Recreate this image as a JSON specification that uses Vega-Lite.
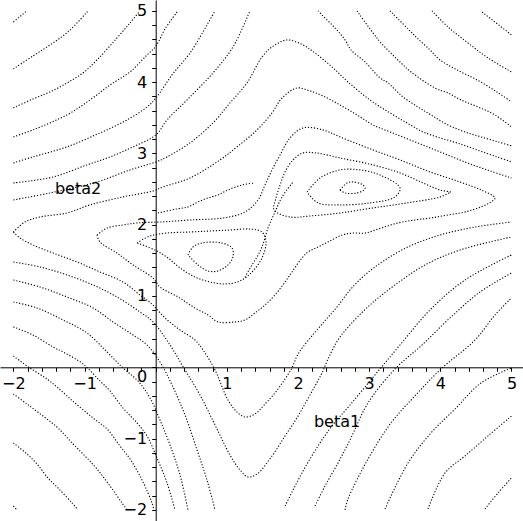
{
"$schema": "https://vega.github.io/schema/vega-lite/v6.json",
"width": 523, "height": 521, "autosize": "none", "padding": 0, "background": "white",
"config": {"view": {"stroke": null}, "axis": {"labelFont": "DejaVu Sans", "titleFont": "DejaVu Sans", "labelFontSize": 16, "titleFontSize": 16, "titleFontWeight": "normal", "labelColor": "black", "titleColor": "black", "domainColor": "black", "tickColor": "black", "grid": false, "tickSize": 4, "domainWidth": 1, "tickWidth": 1}},
"datasets": {"contours": [
{"curve":"C1","k":0,"beta1":-2.0,"beta2":4.843},{"curve":"C1","k":1,"beta1":-1.809,"beta2":5.0},
{"curve":"C2","k":0,"beta1":-2.0,"beta2":4.184},{"curve":"C2","k":1,"beta1":-1.725,"beta2":4.366},{"curve":"C2","k":2,"beta1":-1.486,"beta2":4.52},{"curve":"C2","k":3,"beta1":-1.233,"beta2":4.703},{"curve":"C2","k":4,"beta1":-0.951,"beta2":4.997},
{"curve":"C3","k":0,"beta1":-2.0,"beta2":3.637},{"curve":"C3","k":1,"beta1":-1.725,"beta2":3.763},{"curve":"C3","k":2,"beta1":-1.486,"beta2":3.861},{"curve":"C3","k":3,"beta1":-1.247,"beta2":3.987},{"curve":"C3","k":4,"beta1":-1.022,"beta2":4.128},{"curve":"C3","k":5,"beta1":-0.825,"beta2":4.31},{"curve":"C3","k":6,"beta1":-0.544,"beta2":4.619},{"curve":"C3","k":7,"beta1":-0.361,"beta2":4.829},{"curve":"C3","k":8,"beta1":-0.221,"beta2":5.0},
{"curve":"C4","k":0,"beta1":-2.0,"beta2":3.231},{"curve":"C4","k":1,"beta1":-1.725,"beta2":3.329},{"curve":"C4","k":2,"beta1":-1.247,"beta2":3.539},{"curve":"C4","k":3,"beta1":-0.923,"beta2":3.749},{"curve":"C4","k":4,"beta1":-0.642,"beta2":3.959},{"curve":"C4","k":5,"beta1":-0.361,"beta2":4.142},{"curve":"C4","k":6,"beta1":-0.122,"beta2":4.38},{"curve":"C4","k":7,"beta1":0.004,"beta2":4.506},{"curve":"C4","k":8,"beta1":0.131,"beta2":4.745},{"curve":"C4","k":9,"beta1":0.313,"beta2":5.0},
{"curve":"C5","k":0,"beta1":-2.0,"beta2":2.866},{"curve":"C5","k":1,"beta1":-1.725,"beta2":2.95},{"curve":"C5","k":2,"beta1":-1.247,"beta2":3.091},{"curve":"C5","k":3,"beta1":-0.783,"beta2":3.287},{"curve":"C5","k":4,"beta1":-0.403,"beta2":3.469},{"curve":"C5","k":5,"beta1":-0.122,"beta2":3.651},{"curve":"C5","k":6,"beta1":0.004,"beta2":3.777},{"curve":"C5","k":7,"beta1":0.229,"beta2":4.1},{"curve":"C5","k":8,"beta1":0.482,"beta2":4.408},{"curve":"C5","k":9,"beta1":0.721,"beta2":4.801},{"curve":"C5","k":10,"beta1":0.834,"beta2":5.0},
{"curve":"C6","k":0,"beta1":-2.0,"beta2":2.585},{"curve":"C6","k":1,"beta1":-1.443,"beta2":2.669},{"curve":"C6","k":2,"beta1":-0.966,"beta2":2.838},{"curve":"C6","k":3,"beta1":-0.642,"beta2":2.95},{"curve":"C6","k":4,"beta1":-0.319,"beta2":3.091},{"curve":"C6","k":5,"beta1":0.004,"beta2":3.259},{"curve":"C6","k":6,"beta1":0.159,"beta2":3.469},{"curve":"C6","k":7,"beta1":0.44,"beta2":3.749},{"curve":"C6","k":8,"beta1":0.805,"beta2":4.128},{"curve":"C6","k":9,"beta1":1.086,"beta2":4.492},{"curve":"C6","k":10,"beta1":1.325,"beta2":5.0},
{"curve":"C7","k":0,"beta1":-2.0,"beta2":2.347},{"curve":"C7","k":1,"beta1":-1.486,"beta2":2.445},{"curve":"C7","k":2,"beta1":-0.825,"beta2":2.599},{"curve":"C7","k":3,"beta1":-0.361,"beta2":2.768},{"curve":"C7","k":4,"beta1":0.004,"beta2":2.88},{"curve":"C7","k":5,"beta1":0.159,"beta2":2.95},{"curve":"C7","k":6,"beta1":0.482,"beta2":3.147},{"curve":"C7","k":7,"beta1":0.805,"beta2":3.427},{"curve":"C7","k":8,"beta1":1.044,"beta2":3.707},{"curve":"C7","k":9,"beta1":1.283,"beta2":3.987},{"curve":"C7","k":10,"beta1":1.494,"beta2":4.352},{"curve":"C7","k":11,"beta1":1.635,"beta2":4.492},{"curve":"C7","k":12,"beta1":1.846,"beta2":4.591},{"curve":"C7","k":13,"beta1":2.07,"beta2":4.52},{"curve":"C7","k":14,"beta1":2.239,"beta2":4.408},{"curve":"C7","k":15,"beta1":2.478,"beta2":4.212},{"curve":"C7","k":16,"beta1":2.703,"beta2":4.001},{"curve":"C7","k":17,"beta1":3.012,"beta2":3.749},{"curve":"C7","k":18,"beta1":3.293,"beta2":3.567},{"curve":"C7","k":19,"beta1":3.532,"beta2":3.427},{"curve":"C7","k":20,"beta1":3.757,"beta2":3.301},{"curve":"C7","k":21,"beta1":3.996,"beta2":3.217},{"curve":"C7","k":22,"beta1":4.235,"beta2":3.147},{"curve":"C7","k":23,"beta1":4.516,"beta2":3.048},{"curve":"C7","k":24,"beta1":4.797,"beta2":2.95},{"curve":"C7","k":25,"beta1":5.0,"beta2":2.88},
{"curve":"C8","k":0,"beta1":-2.0,"beta2":1.897},{"curve":"C8","k":1,"beta1":-1.837,"beta2":2.038},{"curve":"C8","k":2,"beta1":-1.626,"beta2":2.108},{"curve":"C8","k":3,"beta1":-1.247,"beta2":2.164},{"curve":"C8","k":4,"beta1":-0.923,"beta2":2.277},{"curve":"C8","k":5,"beta1":-0.46,"beta2":2.389},{"curve":"C8","k":6,"beta1":-0.038,"beta2":2.473},{"curve":"C8","k":7,"beta1":0.103,"beta2":2.529},{"curve":"C8","k":8,"beta1":0.482,"beta2":2.655},{"curve":"C8","k":9,"beta1":0.904,"beta2":2.908},{"curve":"C8","k":10,"beta1":1.143,"beta2":3.091},{"curve":"C8","k":11,"beta1":1.424,"beta2":3.329},{"curve":"C8","k":12,"beta1":1.635,"beta2":3.567},{"curve":"C8","k":13,"beta1":1.776,"beta2":3.777},{"curve":"C8","k":14,"beta1":1.986,"beta2":3.917},{"curve":"C8","k":15,"beta1":2.169,"beta2":3.875},{"curve":"C8","k":16,"beta1":2.351,"beta2":3.805},{"curve":"C8","k":17,"beta1":2.59,"beta2":3.679},{"curve":"C8","k":18,"beta1":2.829,"beta2":3.539},{"curve":"C8","k":19,"beta1":3.054,"beta2":3.399},{"curve":"C8","k":20,"beta1":3.293,"beta2":3.301},{"curve":"C8","k":21,"beta1":3.574,"beta2":3.189},{"curve":"C8","k":22,"beta1":3.855,"beta2":3.077},{"curve":"C8","k":23,"beta1":4.136,"beta2":2.964},{"curve":"C8","k":24,"beta1":4.417,"beta2":2.852},{"curve":"C8","k":25,"beta1":4.699,"beta2":2.754},{"curve":"C8","k":26,"beta1":5.0,"beta2":2.655},
{"curve":"T1","k":0,"beta1":2.281,"beta2":5.0},{"curve":"T1","k":1,"beta1":2.337,"beta2":4.941},{"curve":"T1","k":2,"beta1":2.52,"beta2":4.759},{"curve":"T1","k":3,"beta1":2.661,"beta2":4.591},{"curve":"T1","k":4,"beta1":2.745,"beta2":4.45},{"curve":"T1","k":5,"beta1":2.942,"beta2":4.282},{"curve":"T1","k":6,"beta1":3.153,"beta2":4.058},{"curve":"T1","k":7,"beta1":3.265,"beta2":3.987},{"curve":"T1","k":8,"beta1":3.476,"beta2":3.791},{"curve":"T1","k":9,"beta1":3.686,"beta2":3.651},{"curve":"T1","k":10,"beta1":3.869,"beta2":3.539},{"curve":"T1","k":11,"beta1":4.108,"beta2":3.399},{"curve":"T1","k":12,"beta1":4.347,"beta2":3.301},{"curve":"T1","k":13,"beta1":4.572,"beta2":3.231},{"curve":"T1","k":14,"beta1":4.811,"beta2":3.161},{"curve":"T1","k":15,"beta1":5.0,"beta2":3.105},
{"curve":"T2","k":0,"beta1":2.829,"beta2":4.997},{"curve":"T2","k":1,"beta1":3.054,"beta2":4.689},{"curve":"T2","k":2,"beta1":3.167,"beta2":4.548},{"curve":"T2","k":3,"beta1":3.448,"beta2":4.268},{"curve":"T2","k":4,"beta1":3.588,"beta2":4.142},{"curve":"T2","k":5,"beta1":3.926,"beta2":3.917},{"curve":"T2","k":6,"beta1":4.108,"beta2":3.847},{"curve":"T2","k":7,"beta1":4.291,"beta2":3.749},{"curve":"T2","k":8,"beta1":4.53,"beta2":3.651},{"curve":"T2","k":9,"beta1":4.769,"beta2":3.539},{"curve":"T2","k":10,"beta1":5.0,"beta2":3.371},
{"curve":"T3","k":0,"beta1":3.293,"beta2":5.0},{"curve":"T3","k":1,"beta1":3.546,"beta2":4.745},{"curve":"T3","k":2,"beta1":3.672,"beta2":4.619},{"curve":"T3","k":3,"beta1":3.855,"beta2":4.45},{"curve":"T3","k":4,"beta1":3.996,"beta2":4.31},{"curve":"T3","k":5,"beta1":4.235,"beta2":4.17},{"curve":"T3","k":6,"beta1":4.516,"beta2":4.03},{"curve":"T3","k":7,"beta1":4.797,"beta2":3.861},{"curve":"T3","k":8,"beta1":5.0,"beta2":3.721},
{"curve":"T4","k":0,"beta1":3.883,"beta2":5.0},{"curve":"T4","k":1,"beta1":4.108,"beta2":4.773},{"curve":"T4","k":2,"beta1":4.389,"beta2":4.548},{"curve":"T4","k":3,"beta1":4.671,"beta2":4.338},{"curve":"T4","k":4,"beta1":5.0,"beta2":4.142},
{"curve":"T5","k":0,"beta1":4.586,"beta2":4.983},{"curve":"T5","k":1,"beta1":5.0,"beta2":4.661},
{"curve":"D","k":0,"beta1":-0.825,"beta2":1.855},{"curve":"D","k":1,"beta1":-0.684,"beta2":1.953},{"curve":"D","k":2,"beta1":-0.46,"beta2":1.996},{"curve":"D","k":3,"beta1":-0.263,"beta2":2.024},{"curve":"D","k":4,"beta1":0.089,"beta2":2.038},{"curve":"D","k":5,"beta1":0.482,"beta2":2.066},{"curve":"D","k":6,"beta1":0.946,"beta2":2.094},{"curve":"D","k":7,"beta1":1.255,"beta2":2.178},{"curve":"D","k":8,"beta1":1.438,"beta2":2.347},{"curve":"D","k":9,"beta1":1.536,"beta2":2.557},{"curve":"D","k":10,"beta1":1.635,"beta2":2.768},{"curve":"D","k":11,"beta1":1.748,"beta2":2.978},{"curve":"D","k":12,"beta1":1.888,"beta2":3.217},{"curve":"D","k":13,"beta1":2.07,"beta2":3.357},{"curve":"D","k":14,"beta1":2.351,"beta2":3.329},{"curve":"D","k":15,"beta1":2.59,"beta2":3.231},{"curve":"D","k":16,"beta1":3.054,"beta2":3.048},{"curve":"D","k":17,"beta1":3.434,"beta2":2.908},{"curve":"D","k":18,"beta1":3.855,"beta2":2.74},{"curve":"D","k":19,"beta1":4.277,"beta2":2.599},{"curve":"D","k":20,"beta1":4.572,"beta2":2.487},{"curve":"D","k":21,"beta1":4.769,"beta2":2.375},{"curve":"D","k":22,"beta1":4.713,"beta2":2.319},{"curve":"D","k":23,"beta1":4.572,"beta2":2.249},{"curve":"D","k":24,"beta1":4.347,"beta2":2.178},{"curve":"D","k":25,"beta1":4.108,"beta2":2.136},{"curve":"D","k":26,"beta1":3.869,"beta2":2.094},{"curve":"D","k":27,"beta1":3.644,"beta2":2.066},{"curve":"D","k":28,"beta1":3.405,"beta2":2.024},{"curve":"D","k":29,"beta1":3.167,"beta2":1.953},{"curve":"D","k":30,"beta1":2.942,"beta2":1.883},{"curve":"D","k":31,"beta1":2.773,"beta2":1.883},{"curve":"D","k":32,"beta1":2.619,"beta2":1.855},{"curve":"D","k":33,"beta1":2.422,"beta2":1.757},{"curve":"D","k":34,"beta1":2.281,"beta2":1.687},{"curve":"D","k":35,"beta1":2.141,"beta2":1.617},{"curve":"D","k":36,"beta1":2.056,"beta2":1.533},{"curve":"D","k":37,"beta1":1.916,"beta2":1.337},{"curve":"D","k":38,"beta1":1.818,"beta2":1.196},{"curve":"D","k":39,"beta1":1.677,"beta2":1.014},{"curve":"D","k":40,"beta1":1.536,"beta2":0.874},{"curve":"D","k":41,"beta1":1.396,"beta2":0.762},{"curve":"D","k":42,"beta1":1.255,"beta2":0.664},{"curve":"D","k":43,"beta1":1.115,"beta2":0.636},{"curve":"D","k":44,"beta1":0.876,"beta2":0.636},{"curve":"D","k":45,"beta1":0.735,"beta2":0.734},{"curve":"D","k":46,"beta1":0.552,"beta2":0.832},{"curve":"D","k":47,"beta1":0.313,"beta2":0.986},{"curve":"D","k":48,"beta1":0.06,"beta2":1.126},{"curve":"D","k":49,"beta1":-0.038,"beta2":1.252},{"curve":"D","k":50,"beta1":-0.319,"beta2":1.435},{"curve":"D","k":51,"beta1":-0.544,"beta2":1.603},{"curve":"D","k":52,"beta1":-0.783,"beta2":1.757},{"curve":"D","k":53,"beta1":-0.825,"beta2":1.855},
{"curve":"RL4","k":0,"beta1":4.15,"beta2":2.459},{"curve":"RL4","k":1,"beta1":3.996,"beta2":2.487},{"curve":"RL4","k":2,"beta1":3.757,"beta2":2.585},{"curve":"RL4","k":3,"beta1":3.434,"beta2":2.726},{"curve":"RL4","k":4,"beta1":3.054,"beta2":2.838},{"curve":"RL4","k":5,"beta1":2.59,"beta2":2.936},{"curve":"RL4","k":6,"beta1":2.253,"beta2":3.006},{"curve":"RL4","k":7,"beta1":2.07,"beta2":3.006},{"curve":"RL4","k":8,"beta1":1.93,"beta2":2.908},{"curve":"RL4","k":9,"beta1":1.818,"beta2":2.74},{"curve":"RL4","k":10,"beta1":1.748,"beta2":2.557},{"curve":"RL4","k":11,"beta1":1.691,"beta2":2.375},{"curve":"RL4","k":12,"beta1":1.663,"beta2":2.206},{"curve":"RL4","k":13,"beta1":1.888,"beta2":2.108},{"curve":"RL4","k":14,"beta1":2.169,"beta2":2.122},{"curve":"RL4","k":15,"beta1":2.59,"beta2":2.164},{"curve":"RL4","k":16,"beta1":3.054,"beta2":2.235},{"curve":"RL4","k":17,"beta1":3.532,"beta2":2.305},{"curve":"RL4","k":18,"beta1":3.996,"beta2":2.389},{"curve":"RL4","k":19,"beta1":4.15,"beta2":2.459},
{"curve":"RL2","k":0,"beta1":2.127,"beta2":2.459},{"curve":"RL2","k":1,"beta1":2.309,"beta2":2.655},{"curve":"RL2","k":2,"beta1":2.59,"beta2":2.768},{"curve":"RL2","k":3,"beta1":2.871,"beta2":2.768},{"curve":"RL2","k":4,"beta1":3.153,"beta2":2.697},{"curve":"RL2","k":5,"beta1":3.434,"beta2":2.515},{"curve":"RL2","k":6,"beta1":3.363,"beta2":2.389},{"curve":"RL2","k":7,"beta1":3.012,"beta2":2.305},{"curve":"RL2","k":8,"beta1":2.59,"beta2":2.277},{"curve":"RL2","k":9,"beta1":2.281,"beta2":2.305},{"curve":"RL2","k":10,"beta1":2.127,"beta2":2.459},
{"curve":"RL1","k":0,"beta1":2.59,"beta2":2.487},{"curve":"RL1","k":1,"beta1":2.689,"beta2":2.585},{"curve":"RL1","k":2,"beta1":2.773,"beta2":2.599},{"curve":"RL1","k":3,"beta1":2.914,"beta2":2.557},{"curve":"RL1","k":4,"beta1":2.942,"beta2":2.501},{"curve":"RL1","k":5,"beta1":2.829,"beta2":2.445},{"curve":"RL1","k":6,"beta1":2.661,"beta2":2.445},{"curve":"RL1","k":7,"beta1":2.59,"beta2":2.487},
{"curve":"CL1","k":0,"beta1":0.454,"beta2":1.575},{"curve":"CL1","k":1,"beta1":0.524,"beta2":1.687},{"curve":"CL1","k":2,"beta1":0.651,"beta2":1.743},{"curve":"CL1","k":3,"beta1":0.932,"beta2":1.743},{"curve":"CL1","k":4,"beta1":1.072,"beta2":1.673},{"curve":"CL1","k":5,"beta1":1.086,"beta2":1.547},{"curve":"CL1","k":6,"beta1":1.016,"beta2":1.435},{"curve":"CL1","k":7,"beta1":0.876,"beta2":1.351},{"curve":"CL1","k":8,"beta1":0.735,"beta2":1.351},{"curve":"CL1","k":9,"beta1":0.595,"beta2":1.435},{"curve":"CL1","k":10,"beta1":0.454,"beta2":1.575},
{"curve":"CL2","k":0,"beta1":-0.263,"beta2":1.743},{"curve":"CL2","k":1,"beta1":-0.08,"beta2":1.841},{"curve":"CL2","k":2,"beta1":0.159,"beta2":1.883},{"curve":"CL2","k":3,"beta1":0.482,"beta2":1.897},{"curve":"CL2","k":4,"beta1":0.763,"beta2":1.911},{"curve":"CL2","k":5,"beta1":1.044,"beta2":1.925},{"curve":"CL2","k":6,"beta1":1.325,"beta2":1.939},{"curve":"CL2","k":7,"beta1":1.494,"beta2":1.897},{"curve":"CL2","k":8,"beta1":1.55,"beta2":1.757},{"curve":"CL2","k":9,"beta1":1.494,"beta2":1.533},{"curve":"CL2","k":10,"beta1":1.353,"beta2":1.337},{"curve":"CL2","k":11,"beta1":1.185,"beta2":1.21},{"curve":"CL2","k":12,"beta1":0.974,"beta2":1.168},{"curve":"CL2","k":13,"beta1":0.763,"beta2":1.196},{"curve":"CL2","k":14,"beta1":0.552,"beta2":1.266},{"curve":"CL2","k":15,"beta1":0.342,"beta2":1.393},{"curve":"CL2","k":16,"beta1":0.173,"beta2":1.533},{"curve":"CL2","k":17,"beta1":-0.01,"beta2":1.645},{"curve":"CL2","k":18,"beta1":-0.263,"beta2":1.743},
{"curve":"H0","k":0,"beta1":0.032,"beta2":2.164},{"curve":"H0","k":1,"beta1":0.299,"beta2":2.221},{"curve":"H0","k":2,"beta1":0.454,"beta2":2.249},{"curve":"H0","k":3,"beta1":0.595,"beta2":2.319},{"curve":"H0","k":4,"beta1":0.735,"beta2":2.375},{"curve":"H0","k":5,"beta1":0.876,"beta2":2.417},{"curve":"H0","k":6,"beta1":1.016,"beta2":2.487},{"curve":"H0","k":7,"beta1":1.213,"beta2":2.557},{"curve":"H0","k":8,"beta1":1.396,"beta2":2.585},
{"curve":"Dg","k":0,"beta1":1.255,"beta2":1.266},{"curve":"Dg","k":1,"beta1":1.353,"beta2":1.435},{"curve":"Dg","k":2,"beta1":1.424,"beta2":1.547},{"curve":"Dg","k":3,"beta1":1.494,"beta2":1.687},{"curve":"Dg","k":4,"beta1":1.578,"beta2":1.953},{"curve":"Dg","k":5,"beta1":1.677,"beta2":2.178},{"curve":"Dg","k":6,"beta1":1.776,"beta2":2.389},{"curve":"Dg","k":7,"beta1":1.93,"beta2":2.599},
{"curve":"LL1","k":0,"beta1":-2.0,"beta2":1.897},{"curve":"LL1","k":1,"beta1":-1.907,"beta2":1.813},{"curve":"LL1","k":2,"beta1":-1.725,"beta2":1.715},{"curve":"LL1","k":3,"beta1":-1.443,"beta2":1.603},{"curve":"LL1","k":4,"beta1":-1.106,"beta2":1.477},{"curve":"LL1","k":5,"beta1":-0.783,"beta2":1.337},{"curve":"LL1","k":6,"beta1":-0.46,"beta2":1.196},{"curve":"LL1","k":7,"beta1":-0.221,"beta2":1.014},{"curve":"LL1","k":8,"beta1":-0.038,"beta2":0.874},{"curve":"LL1","k":9,"beta1":0.131,"beta2":0.692},{"curve":"LL1","k":10,"beta1":0.342,"beta2":0.523},{"curve":"LL1","k":11,"beta1":0.552,"beta2":0.383},{"curve":"LL1","k":12,"beta1":0.665,"beta2":0.243},{"curve":"LL1","k":13,"beta1":0.834,"beta2":-0.038},{"curve":"LL1","k":14,"beta1":1.016,"beta2":-0.459},{"curve":"LL1","k":15,"beta1":1.157,"beta2":-0.641},{"curve":"LL1","k":16,"beta1":1.255,"beta2":-0.697},{"curve":"LL1","k":17,"beta1":1.396,"beta2":-0.655},{"curve":"LL1","k":18,"beta1":1.536,"beta2":-0.515},{"curve":"LL1","k":19,"beta1":1.677,"beta2":-0.36},{"curve":"LL1","k":20,"beta1":1.818,"beta2":-0.164},{"curve":"LL1","k":21,"beta1":1.916,"beta2":-0.01},{"curve":"LL1","k":22,"beta1":1.986,"beta2":0.158},{"curve":"LL1","k":23,"beta1":2.07,"beta2":0.285},{"curve":"LL1","k":24,"beta1":2.351,"beta2":0.621},{"curve":"LL1","k":25,"beta1":2.548,"beta2":0.845},{"curve":"LL1","k":26,"beta1":2.731,"beta2":1.084},{"curve":"LL1","k":27,"beta1":2.942,"beta2":1.295},{"curve":"LL1","k":28,"beta1":3.223,"beta2":1.505},{"curve":"LL1","k":29,"beta1":3.574,"beta2":1.701},{"curve":"LL1","k":30,"beta1":3.996,"beta2":1.855},{"curve":"LL1","k":31,"beta1":4.488,"beta2":1.967},{"curve":"LL1","k":32,"beta1":5.0,"beta2":2.038},
{"curve":"LL2","k":0,"beta1":-2.0,"beta2":1.477},{"curve":"LL2","k":1,"beta1":-1.626,"beta2":1.407},{"curve":"LL2","k":2,"beta1":-1.247,"beta2":1.295},{"curve":"LL2","k":3,"beta1":-0.881,"beta2":1.154},{"curve":"LL2","k":4,"beta1":-0.544,"beta2":0.986},{"curve":"LL2","k":5,"beta1":-0.221,"beta2":0.776},{"curve":"LL2","k":6,"beta1":-0.038,"beta2":0.636},{"curve":"LL2","k":7,"beta1":0.201,"beta2":0.313},{"curve":"LL2","k":8,"beta1":0.412,"beta2":-0.038},{"curve":"LL2","k":9,"beta1":0.623,"beta2":-0.389},{"curve":"LL2","k":10,"beta1":0.834,"beta2":-0.809},{"curve":"LL2","k":11,"beta1":1.044,"beta2":-1.23},{"curve":"LL2","k":12,"beta1":1.185,"beta2":-1.44},{"curve":"LL2","k":13,"beta1":1.297,"beta2":-1.539},{"curve":"LL2","k":14,"beta1":1.424,"beta2":-1.497},{"curve":"LL2","k":15,"beta1":1.635,"beta2":-1.244},{"curve":"LL2","k":16,"beta1":1.818,"beta2":-0.963},{"curve":"LL2","k":17,"beta1":1.958,"beta2":-0.753},{"curve":"LL2","k":18,"beta1":2.098,"beta2":-0.515},{"curve":"LL2","k":19,"beta1":2.239,"beta2":-0.262},{"curve":"LL2","k":20,"beta1":2.337,"beta2":-0.08},{"curve":"LL2","k":21,"beta1":2.422,"beta2":0.116},{"curve":"LL2","k":22,"beta1":2.562,"beta2":0.383},{"curve":"LL2","k":23,"beta1":2.731,"beta2":0.593},{"curve":"LL2","k":24,"beta1":3.012,"beta2":0.874},{"curve":"LL2","k":25,"beta1":3.363,"beta2":1.154},{"curve":"LL2","k":26,"beta1":3.785,"beta2":1.435},{"curve":"LL2","k":27,"beta1":4.277,"beta2":1.645},{"curve":"LL2","k":28,"beta1":5.0,"beta2":1.827},
{"curve":"LL3","k":0,"beta1":-2.0,"beta2":1.224},{"curve":"LL3","k":1,"beta1":-1.626,"beta2":1.126},{"curve":"LL3","k":2,"beta1":-1.247,"beta2":0.986},{"curve":"LL3","k":3,"beta1":-0.881,"beta2":0.832},{"curve":"LL3","k":4,"beta1":-0.6,"beta2":0.636},{"curve":"LL3","k":5,"beta1":-0.319,"beta2":0.453},{"curve":"LL3","k":6,"beta1":-0.122,"beta2":0.313},{"curve":"LL3","k":7,"beta1":0.06,"beta2":0.074},{"curve":"LL3","k":8,"beta1":0.229,"beta2":-0.248},{"curve":"LL3","k":9,"beta1":0.412,"beta2":-0.669},{"curve":"LL3","k":10,"beta1":0.581,"beta2":-1.16},{"curve":"LL3","k":11,"beta1":0.721,"beta2":-1.581},{"curve":"LL3","k":12,"beta1":0.834,"beta2":-2.0},
{"curve":"LL4","k":0,"beta1":-2.0,"beta2":0.916},{"curve":"LL4","k":1,"beta1":-1.668,"beta2":0.832},{"curve":"LL4","k":2,"beta1":-1.303,"beta2":0.664},{"curve":"LL4","k":3,"beta1":-0.966,"beta2":0.481},{"curve":"LL4","k":4,"beta1":-0.684,"beta2":0.215},{"curve":"LL4","k":5,"beta1":-0.46,"beta2":-0.01},{"curve":"LL4","k":6,"beta1":-0.249,"beta2":-0.192},{"curve":"LL4","k":7,"beta1":-0.08,"beta2":-0.43},{"curve":"LL4","k":8,"beta1":0.06,"beta2":-0.739},{"curve":"LL4","k":9,"beta1":0.201,"beta2":-1.09},{"curve":"LL4","k":10,"beta1":0.342,"beta2":-1.511},{"curve":"LL4","k":11,"beta1":0.454,"beta2":-2.0},
{"curve":"LL5","k":0,"beta1":-2.0,"beta2":0.565},{"curve":"LL5","k":1,"beta1":-1.725,"beta2":0.453},{"curve":"LL5","k":2,"beta1":-1.443,"beta2":0.285},{"curve":"LL5","k":3,"beta1":-1.275,"beta2":0.201},{"curve":"LL5","k":4,"beta1":-1.022,"beta2":0.046},{"curve":"LL5","k":5,"beta1":-0.783,"beta2":-0.192},{"curve":"LL5","k":6,"beta1":-0.642,"beta2":-0.332},{"curve":"LL5","k":7,"beta1":-0.46,"beta2":-0.571},{"curve":"LL5","k":8,"beta1":-0.263,"beta2":-0.781},{"curve":"LL5","k":9,"beta1":-0.122,"beta2":-0.963},{"curve":"LL5","k":10,"beta1":0.018,"beta2":-1.272},{"curve":"LL5","k":11,"beta1":0.159,"beta2":-1.62},{"curve":"LL5","k":12,"beta1":0.271,"beta2":-2.0},
{"curve":"P35","k":0,"beta1":-2.0,"beta2":0.158},{"curve":"P35","k":1,"beta1":-1.767,"beta2":-0.01},{"curve":"P35","k":2,"beta1":-1.528,"beta2":-0.164},{"curve":"P35","k":3,"beta1":-1.373,"beta2":-0.29},{"curve":"P35","k":4,"beta1":-1.134,"beta2":-0.501},{"curve":"P35","k":5,"beta1":-0.881,"beta2":-0.711},{"curve":"P35","k":6,"beta1":-0.684,"beta2":-0.865},{"curve":"P35","k":7,"beta1":-0.502,"beta2":-1.104},{"curve":"P35","k":8,"beta1":-0.361,"beta2":-1.286},{"curve":"P35","k":9,"beta1":-0.221,"beta2":-1.525},{"curve":"P35","k":10,"beta1":-0.108,"beta2":-1.763},{"curve":"P35","k":11,"beta1":-0.052,"beta2":-1.903},{"curve":"P35","k":12,"beta1":-0.024,"beta2":-2.0},
{"curve":"P4","k":0,"beta1":-2.0,"beta2":-0.374},{"curve":"P4","k":1,"beta1":-1.809,"beta2":-0.515},{"curve":"P4","k":2,"beta1":-1.584,"beta2":-0.683},{"curve":"P4","k":3,"beta1":-1.373,"beta2":-0.851},{"curve":"P4","k":4,"beta1":-1.176,"beta2":-1.061},{"curve":"P4","k":5,"beta1":-0.994,"beta2":-1.244},{"curve":"P4","k":6,"beta1":-0.825,"beta2":-1.426},{"curve":"P4","k":7,"beta1":-0.642,"beta2":-1.665},{"curve":"P4","k":8,"beta1":-0.474,"beta2":-1.903},{"curve":"P4","k":9,"beta1":-0.403,"beta2":-2.0},
{"curve":"P6","k":0,"beta1":-2.0,"beta2":-1.061},{"curve":"P6","k":1,"beta1":-1.809,"beta2":-1.216},{"curve":"P6","k":2,"beta1":-1.668,"beta2":-1.356},{"curve":"P6","k":3,"beta1":-1.514,"beta2":-1.553},{"curve":"P6","k":4,"beta1":-1.373,"beta2":-1.693},{"curve":"P6","k":5,"beta1":-1.176,"beta2":-1.903},{"curve":"P6","k":6,"beta1":-1.092,"beta2":-2.0},
{"curve":"P7","k":0,"beta1":-2.0,"beta2":-1.945},{"curve":"P7","k":1,"beta1":-1.95,"beta2":-2.0},
{"curve":"F3","k":0,"beta1":1.818,"beta2":-1.945},{"curve":"F3","k":1,"beta1":2.056,"beta2":-1.482},{"curve":"F3","k":2,"beta1":2.281,"beta2":-1.104},{"curve":"F3","k":3,"beta1":2.478,"beta2":-0.823},{"curve":"F3","k":4,"beta1":2.731,"beta2":-0.529},{"curve":"F3","k":5,"beta1":3.082,"beta2":-0.108},{"curve":"F3","k":6,"beta1":3.434,"beta2":0.313},{"curve":"F3","k":7,"beta1":3.855,"beta2":0.804},{"curve":"F3","k":8,"beta1":4.347,"beta2":1.224},{"curve":"F3","k":9,"beta1":5.0,"beta2":1.575},
{"curve":"Z92","k":0,"beta1":2.239,"beta2":-1.945},{"curve":"Z92","k":1,"beta1":2.38,"beta2":-1.665},{"curve":"Z92","k":2,"beta1":2.562,"beta2":-1.342},{"curve":"Z92","k":3,"beta1":2.731,"beta2":-1.019},{"curve":"Z92","k":4,"beta1":2.984,"beta2":-0.501},{"curve":"Z92","k":5,"beta1":3.363,"beta2":-0.024},{"curve":"Z92","k":6,"beta1":3.728,"beta2":0.299},{"curve":"Z92","k":7,"beta1":4.136,"beta2":0.692},{"curve":"Z92","k":8,"beta1":4.558,"beta2":1.056},{"curve":"Z92","k":9,"beta1":5.0,"beta2":1.322},
{"curve":"Z91","k":0,"beta1":2.661,"beta2":-2.0},{"curve":"Z91","k":1,"beta1":2.703,"beta2":-1.847},{"curve":"Z91","k":2,"beta1":2.984,"beta2":-1.286},{"curve":"Z91","k":3,"beta1":3.307,"beta2":-0.78},{"curve":"Z91","k":4,"beta1":3.644,"beta2":-0.401},{"curve":"Z91","k":5,"beta1":4.01,"beta2":-0.024},{"curve":"Z91","k":6,"beta1":4.488,"beta2":0.383},{"curve":"Z91","k":7,"beta1":4.769,"beta2":0.734},{"curve":"Z91","k":8,"beta1":5.0,"beta2":0.972},
{"curve":"Z93","k":0,"beta1":3.223,"beta2":-1.987},{"curve":"Z93","k":1,"beta1":3.546,"beta2":-1.342},{"curve":"Z93","k":2,"beta1":3.869,"beta2":-0.921},{"curve":"Z93","k":3,"beta1":4.207,"beta2":-0.585},{"curve":"Z93","k":4,"beta1":4.572,"beta2":-0.22},{"curve":"Z93","k":5,"beta1":5.0,"beta2":-0.01},
{"curve":"Z94","k":0,"beta1":3.827,"beta2":-1.987},{"curve":"Z94","k":1,"beta1":4.066,"beta2":-1.482},{"curve":"Z94","k":2,"beta1":4.347,"beta2":-1.244},{"curve":"Z94","k":3,"beta1":4.671,"beta2":-0.963},{"curve":"Z94","k":4,"beta1":5.0,"beta2":-0.683},
{"curve":"Z95","k":0,"beta1":4.628,"beta2":-1.987},{"curve":"Z95","k":1,"beta1":4.811,"beta2":-1.763},{"curve":"Z95","k":2,"beta1":5.0,"beta2":-1.553}
]},
"data": {"name": "contours"},
"mark": {"type": "line", "stroke": "black", "strokeWidth": 1.1, "strokeDash": [1.2, 1.8], "clip": true, "interpolate": "catmull-rom"},
"encoding": {
  "x": {"field": "beta1", "type": "quantitative", "scale": {"domain": [-2.188, 5.162], "nice": false, "zero": false},
    "axis": {"orient": "bottom", "offset": -153.7, "values": [-2,-1.8,-1.6,-1.4,-1.2,-1,-0.8,-0.6,-0.4,-0.2,0,0.2,0.4,0.6,0.8,1,1.2,1.4,1.6,1.8,2,2.2,2.4,2.6,2.8,3,3.2,3.4,3.6,3.8,4,4.2,4.4,4.6,4.8,5],
      "labelExpr": "(abs(datum.value - round(datum.value)) < 0.001 && round(datum.value) != 0) ? format(round(datum.value), 'd') : ''",
      "labelOverlap": false, "labelFlush": false, "labelPadding": 4,
      "title": "beta1", "titleX": 336.5, "titleY": 58.7, "titleAlign": "center", "titleBaseline": "alphabetic", "titleAngle": 0}},
  "y": {"field": "beta2", "type": "quantitative", "scale": {"domain": [-2.156, 5.151], "nice": false, "zero": false},
    "axis": {"orient": "left", "offset": -155.7, "values": [-2,-1.8,-1.6,-1.4,-1.2,-1,-0.8,-0.6,-0.4,-0.2,0,0.2,0.4,0.6,0.8,1,1.2,1.4,1.6,1.8,2,2.2,2.4,2.6,2.8,3,3.2,3.4,3.6,3.8,4,4.2,4.4,4.6,4.8,5],
      "labelExpr": "abs(datum.value - round(datum.value)) < 0.001 ? format(round(datum.value), 'd') : ''",
      "labelOffset": {"condition": {"test": "datum.value === 0", "value": 9}, "value": 0},
      "labelOverlap": false, "labelFlush": false, "labelPadding": 5,
      "title": "beta2", "titleX": -78.2, "titleY": 193, "titleAlign": "center", "titleBaseline": "alphabetic", "titleAngle": 0}},
  "detail": {"field": "curve", "type": "nominal"},
  "order": {"field": "k", "type": "quantitative"}
}
}
